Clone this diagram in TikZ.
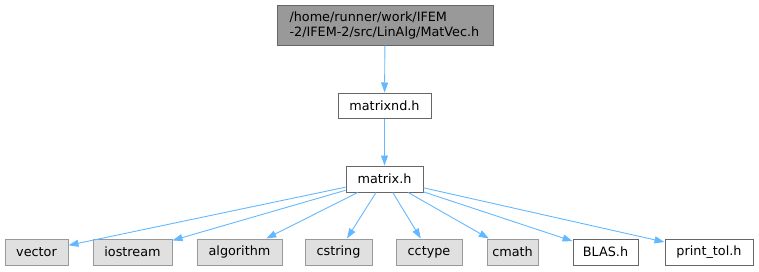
\documentclass[tikz,border=0pt]{standalone}
\usepackage{fontspec}
\setmainfont{DejaVu Sans}
\usetikzlibrary{arrows.meta}
\definecolor{edgeblue}{HTML}{63B8FF}
\definecolor{headfill}{HTML}{999999}
\definecolor{headdraw}{HTML}{666666}
\definecolor{sysfill}{HTML}{E0E0E0}
\definecolor{sysdraw}{HTML}{999999}
\tikzset{
  box/.style={line width=1pt, minimum height=26pt, inner sep=0pt, anchor=center},
  headbox/.style={box, fill=headfill, draw=headdraw, minimum width=216pt, minimum height=40pt, align=left, text width=191pt},
  filebox/.style={box, fill=white, draw=headdraw},
  sysbox/.style={box, fill=sysfill, draw=sysdraw},
  dep/.style={->, draw=edgeblue, line width=0.9pt}
}
\begin{document}
\begin{tikzpicture}[x=1pt, y=-1pt, >={Triangle[length=10pt,width=7pt]}, font=\fontsize{12.8}{15}\selectfont]
    \useasboundingbox (0,0) rectangle (759,271);
    \node[headbox] (matvec) at (385,25) {/home/runner/work/IFEM\\-2/IFEM-2/src/LinAlg/MatVec.h};
    \node[filebox, minimum width=93pt, minimum height=25pt] (matrixnd) at (384.5,105.5) {matrixnd.h};
    \node[filebox, minimum width=77pt] (matrix) at (384.5,179) {matrix.h};
    % included headers
    \node[sysbox, minimum width=63pt] (vector) at (36.5,252) {vector};
    \node[sysbox, minimum width=79pt] (iostream) at (132.5,252) {iostream};
    \node[sysbox, minimum width=85pt] (algorithm) at (239.5,252) {algorithm};
    \node[sysbox, minimum width=67pt] (cstring) at (338.5,252) {cstring};
    \node[sysbox, minimum width=66pt] (cctype) at (429,252) {cctype};
    \node[sysbox, minimum width=51pt] (cmath) at (512.5,252) {cmath};
    \node[filebox, minimum width=65pt] (blas) at (605.5,252) {BLAS.h};
    \node[filebox, minimum width=88pt] (printtol) at (709,252) {print\_tol.h};
    \draw[dep] (matvec) -- (matrixnd);
    \draw[dep] (matrixnd) -- (matrix);
    \foreach \target in {vector,iostream,algorithm,cstring,cctype,cmath,blas,printtol}
        \draw[dep] (matrix) -- (\target);
\end{tikzpicture}
\end{document}
